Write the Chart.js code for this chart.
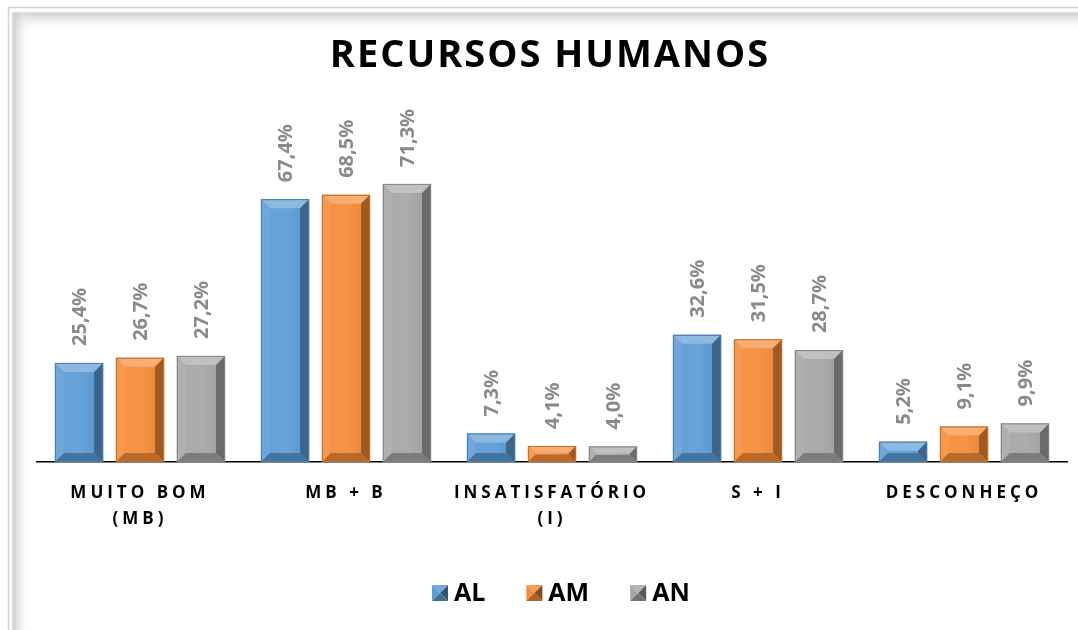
<!DOCTYPE html>
<html>
<head>
<meta charset="utf-8">
<script src="https://cdn.jsdelivr.net/npm/chart.js@4"></script>
<style>
html,body{margin:0;padding:0;background:#fff;}
canvas{display:block;}
</style>
</head>
<body>
<canvas id="c" width="1078" height="630"></canvas>
<script>
const titleText = 'RECURSOS HUMANOS';
const categories = [['MUITO BOM','(MB)'], 'MB + B', ['INSATISFATÓRIO','(I)'], 'S + I', 'DESCONHEÇO'];
const seriesNames = ['AL', 'AM', 'AN'];
const valuesAL = [25.4, 67.4, 7.3, 32.6, 5.2];
const valuesAM = [26.7, 68.5, 4.1, 31.5, 9.1];
const valuesAN = [27.2, 71.3, 4.0, 28.7, 9.9];
const seriesColors = ['#5B9BD5', '#F58A35', '#A5A5A5'];

function shade(hex, amt){
  const n = parseInt(hex.slice(1),16);
  let r=(n>>16)&255,g=(n>>8)&255,b=n&255;
  const f = c => amt>=0 ? Math.round(c+(255-c)*amt) : Math.round(c*(1+amt));
  return 'rgb('+f(r)+','+f(g)+','+f(b)+')';
}
function poly(ctx, pts, color){
  ctx.beginPath(); ctx.moveTo(pts[0][0],pts[0][1]);
  for(let i=1;i<pts.length;i++) ctx.lineTo(pts[i][0],pts[i][1]);
  ctx.closePath(); ctx.fillStyle=color; ctx.fill();
}
function bevelRect(ctx, x0, x1, y0, y1, color, bmax){
  const h=y1-y0, w=x1-x0;
  const b=Math.max(1,Math.min(bmax, h/2.2, w/4));
  const g=ctx.createLinearGradient(x0,0,x1,0);
  g.addColorStop(0, shade(color,0.05)); g.addColorStop(0.5, shade(color,0.08)); g.addColorStop(1, shade(color,-0.05));
  ctx.fillStyle=g; ctx.fillRect(x0,y0,w,h);
  poly(ctx,[[x0,y0],[x1,y0],[x1-b,y0+b],[x0+b,y0+b]], shade(color,0.3));
  poly(ctx,[[x0,y0],[x0+b,y0+b],[x0+b,y1-b],[x0,y1]], shade(color,0.12));
  poly(ctx,[[x1,y0],[x1-b,y0+b],[x1-b,y1-b],[x1,y1]], shade(color,-0.35));
  poly(ctx,[[x0,y1],[x0+b,y1-b],[x1-b,y1-b],[x1,y1]], shade(color,-0.25));
  ctx.strokeStyle=shade(color,-0.2); ctx.lineWidth=1;
  ctx.strokeRect(x0+0.5,y0+0.5,w-1,h-1);
}

const framePlugin = {
  id:'frame',
  beforeDraw(chart){
    const ctx=chart.ctx; const W=chart.width, H=chart.height;
    ctx.save();
    ctx.fillStyle='#fff'; ctx.fillRect(0,0,W,H);
    let g=ctx.createLinearGradient(0,13,0,32);
    g.addColorStop(0,'rgba(200,200,200,0.9)'); g.addColorStop(1,'rgba(255,255,255,0)');
    ctx.fillStyle=g; ctx.fillRect(13,13,W-13,19);
    g=ctx.createLinearGradient(13,0,32,0);
    g.addColorStop(0,'rgba(200,200,200,0.9)'); g.addColorStop(1,'rgba(255,255,255,0)');
    ctx.fillStyle=g; ctx.fillRect(13,13,19,H-13);
    ctx.strokeStyle='#d4d4d4'; ctx.lineWidth=1.5;
    ctx.beginPath(); ctx.moveTo(8.5,H); ctx.lineTo(8.5,7.5); ctx.lineTo(W,7.5); ctx.stroke();
    ctx.strokeStyle='#e2e2e2'; ctx.lineWidth=1.5;
    ctx.beginPath(); ctx.moveTo(12.5,H); ctx.lineTo(12.5,12.5); ctx.lineTo(W,12.5); ctx.stroke();
    ctx.restore();
    ctx.letterSpacing='4px';
  },
  beforeDatasetsDraw(chart){
    chart.ctx.letterSpacing='0px';
  },
  afterDatasetsDraw(chart){
    const ctx=chart.ctx;
    ctx.save();
    chart.data.datasets.forEach((ds,i)=>{
      const meta=chart.getDatasetMeta(i);
      meta.data.forEach((el,j)=>{
        const p=el.getProps(['x','y','base','width'],true);
        const x0=p.x-p.width/2, x1=p.x+p.width/2;
        bevelRect(ctx,x0,x1,p.y,p.base,seriesColors[i],9);
        ctx.save();
        ctx.translate(p.x,p.y-17);
        ctx.rotate(-Math.PI/2);
        ctx.font='bold 20px "Open Sans", sans-serif';
        ctx.fillStyle='#8a8a8a';
        ctx.textAlign='left'; ctx.textBaseline='middle';
        ctx.fillText(ds.data[j].toFixed(1).replace('.',',')+'%',0,1);
        ctx.restore();
      });
    });
    ctx.restore();
  },
  afterDraw(chart){
    const ctx=chart.ctx;
    ctx.save();
    ctx.letterSpacing='2px';
    ctx.font='bold 38px "Open Sans", sans-serif';
    ctx.fillStyle='#000'; ctx.textAlign='center'; ctx.textBaseline='middle';
    ctx.fillText(titleText,549+1,56);
    ctx.letterSpacing='0px';
    ctx.font='bold 25px "Open Sans", sans-serif';
    ctx.textAlign='left';
    const box=16, gap=6, itemGap=41;
    const widths=seriesNames.map(n=>box+gap+ctx.measureText(n).width);
    let x=432; const yc=593;
    seriesNames.forEach((n,i)=>{
      const c=seriesColors[i];
      const x0=x,y0=yc-box/2,x1=x+box,y1=yc+box/2,cx=x+box/2,cy=yc;
      poly(ctx,[[x0,y0],[x1,y0],[cx,cy]],shade(c,0.15));
      poly(ctx,[[x0,y0],[x0,y1],[cx,cy]],shade(c,0.0));
      poly(ctx,[[x1,y0],[x1,y1],[cx,cy]],shade(c,-0.45));
      poly(ctx,[[x0,y1],[x1,y1],[cx,cy]],shade(c,-0.3));
      ctx.fillStyle='#000';
      ctx.fillText(n,x+box+gap,yc+1);
      x+=widths[i]+itemGap;
    });
    ctx.restore();
  }
};

new Chart(document.getElementById('c'),{
  type:'bar',
  data:{
    labels:categories,
    datasets:[
      {label:seriesNames[0],data:valuesAL,backgroundColor:seriesColors[0]},
      {label:seriesNames[1],data:valuesAM,backgroundColor:seriesColors[1]},
      {label:seriesNames[2],data:valuesAN,backgroundColor:seriesColors[2]}
    ]
  },
  options:{
    responsive:false,
    devicePixelRatio:1,
    animation:false,
    categoryPercentage:0.888,
    barPercentage:0.79,
    layout:{padding:{left:37,right:11,top:150,bottom:0}},
    plugins:{legend:{display:false},title:{display:false},tooltip:{enabled:false}},
    scales:{
      x:{
        grid:{display:false},
        border:{display:true,color:'#000',width:1.5},
        ticks:{color:'#000',font:{family:'"Open Sans", sans-serif',size:17,weight:'bold',lineHeight:1.55},
               maxRotation:0,minRotation:0,autoSkip:false,padding:10},
        afterFit(s){s.height=168;}
      },
      y:{display:false,min:0,max:80}
    }
  },
  plugins:[framePlugin]
});
</script>
</body>
</html>
